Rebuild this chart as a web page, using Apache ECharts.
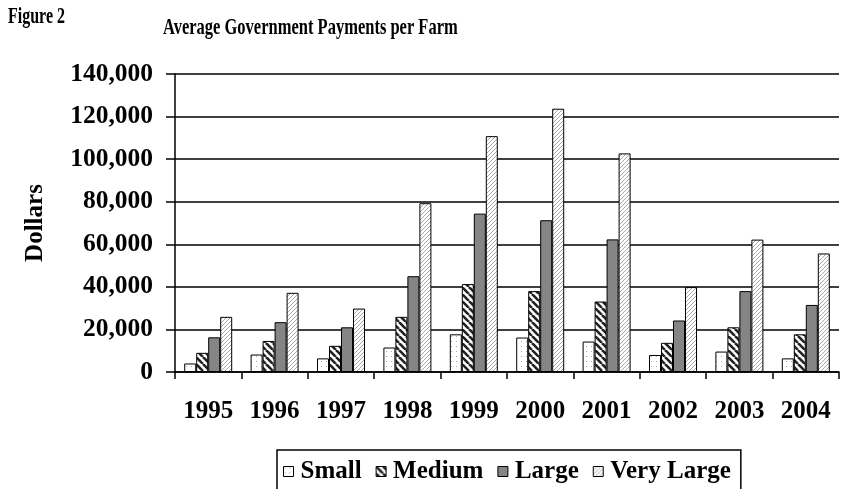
<!DOCTYPE html>
<html><head><meta charset="utf-8">
<script src="https://cdn.jsdelivr.net/npm/echarts@6/dist/echarts.min.js"></script>
<style>html,body{margin:0;padding:0;background:#fff}#c{width:842px;height:489px}</style>
</head><body><div id="c"></div>
<script>
const years = ['1995','1996','1997','1998','1999','2000','2001','2002','2003','2004'];
const small = [4000, 8200, 6400, 11500, 17700, 16200, 14300, 8000, 9600, 6400];
const medium = [9000, 14600, 12300, 25900, 41300, 38000, 33100, 13700, 21000, 17700];
const large = [16300, 23400, 21000, 45000, 74400, 71300, 62300, 24200, 38000, 31500];
const veryLarge = [25900, 37200, 29800, 79300, 110800, 123700, 102700, 39900, 62200, 55700];
const seriesNames = ['Small', 'Medium', 'Large', 'Very Large'];
const yTicks = [0, 20000, 40000, 60000, 80000, 100000, 120000, 140000];

function pat(size, draw) {
  const c = document.createElement('canvas');
  c.width = size; c.height = size;
  const g = c.getContext('2d');
  g.fillStyle = '#fff'; g.fillRect(0, 0, size, size);
  draw(g, size);
  return { image: c, repeat: 'repeat' };
}
const dots = pat(5, (g) => { g.fillStyle = '#a8a8a8'; g.fillRect(1, 1, 1, 1); });
const thick = pat(7, (g, s) => {
  g.strokeStyle = '#222'; g.lineWidth = 2.6;
  for (let k = -1; k <= 1; k++) { g.beginPath(); g.moveTo(k * s, 0); g.lineTo(k * s + s, s); g.stroke(); }
});
const thin = pat(4, (g, s) => {
  g.strokeStyle = '#a0a0a0'; g.lineWidth = 0.9;
  for (let k = -1; k <= 1; k++) { g.beginPath(); g.moveTo(k * s, s); g.lineTo(k * s + s, 0); g.stroke(); }
});
const fills = [dots, thick, '#858585', thin];
const dataSets = [small, medium, large, veryLarge];
const font = '"Liberation Serif", "DejaVu Serif", serif';

const chart = echarts.init(document.getElementById('c'), null, { renderer: 'canvas' });
chart.setOption({
  animation: false,
  backgroundColor: '#fff',
  textStyle: { fontFamily: font, fontWeight: 'bold', color: '#000' },
  graphic: [
    { type: 'text', x: 8, y: 5, scaleY: 1.5, style: { text: 'Figure 2', font: 'bold 16px ' + font, fill: '#000', textVerticalAlign: 'top' } },
    { type: 'text', x: 163, y: 15, scaleY: 1.45, style: { text: 'Average Government Payments per Farm', font: 'bold 16.5px ' + font, fill: '#000', textVerticalAlign: 'top' } }
  ],
  grid: { left: 175, top: 74, right: 3, bottom: 117, containLabel: false },
  legend: {
    left: 277, top: 450,
    padding: [9, 10, 18, 6],
    borderColor: '#000', borderWidth: 1.5,
    itemWidth: 10, itemHeight: 10, itemGap: 14,
    icon: 'rect',
    itemStyle: { borderColor: '#000', borderWidth: 1 },
    textStyle: { fontFamily: font, fontWeight: 'bold', fontSize: 25, color: '#000', padding: [0, 0, 0, 2] },
    data: seriesNames
  },
  xAxis: {
    type: 'category', data: years,
    axisLine: { lineStyle: { color: '#000', width: 1.5 } },
    axisTick: { show: true, length: 7, lineStyle: { color: '#000', width: 1.5 } },
    axisLabel: { margin: 27, fontFamily: font, fontWeight: 'bold', fontSize: 25, color: '#000' }
  },
  yAxis: {
    type: 'value', min: 0, max: 140000, interval: 20000,
    name: 'Dollars', nameLocation: 'middle', nameGap: 127, nameRotate: 90,
    nameTextStyle: { fontFamily: font, fontWeight: 'bold', fontSize: 25, color: '#000' },
    axisLine: { show: true, lineStyle: { color: '#000', width: 1.5 } },
    axisTick: { show: true, length: 9, lineStyle: { color: '#000', width: 1.5 } },
    axisLabel: { margin: 22, fontFamily: font, fontWeight: 'bold', fontSize: 25.5, color: '#000',
      formatter: (v) => yTicks.includes(v) ? v.toLocaleString('en-US') : '' },
    splitLine: { show: true, lineStyle: { color: '#000', width: 1.5 } }
  },
  series: seriesNames.map((n, i) => ({
    name: n, type: 'bar', data: dataSets[i],
    barWidth: 12, barGap: '0%',
    itemStyle: { color: fills[i], borderColor: '#000', borderWidth: 1 }
  }))
});
</script></body></html>
